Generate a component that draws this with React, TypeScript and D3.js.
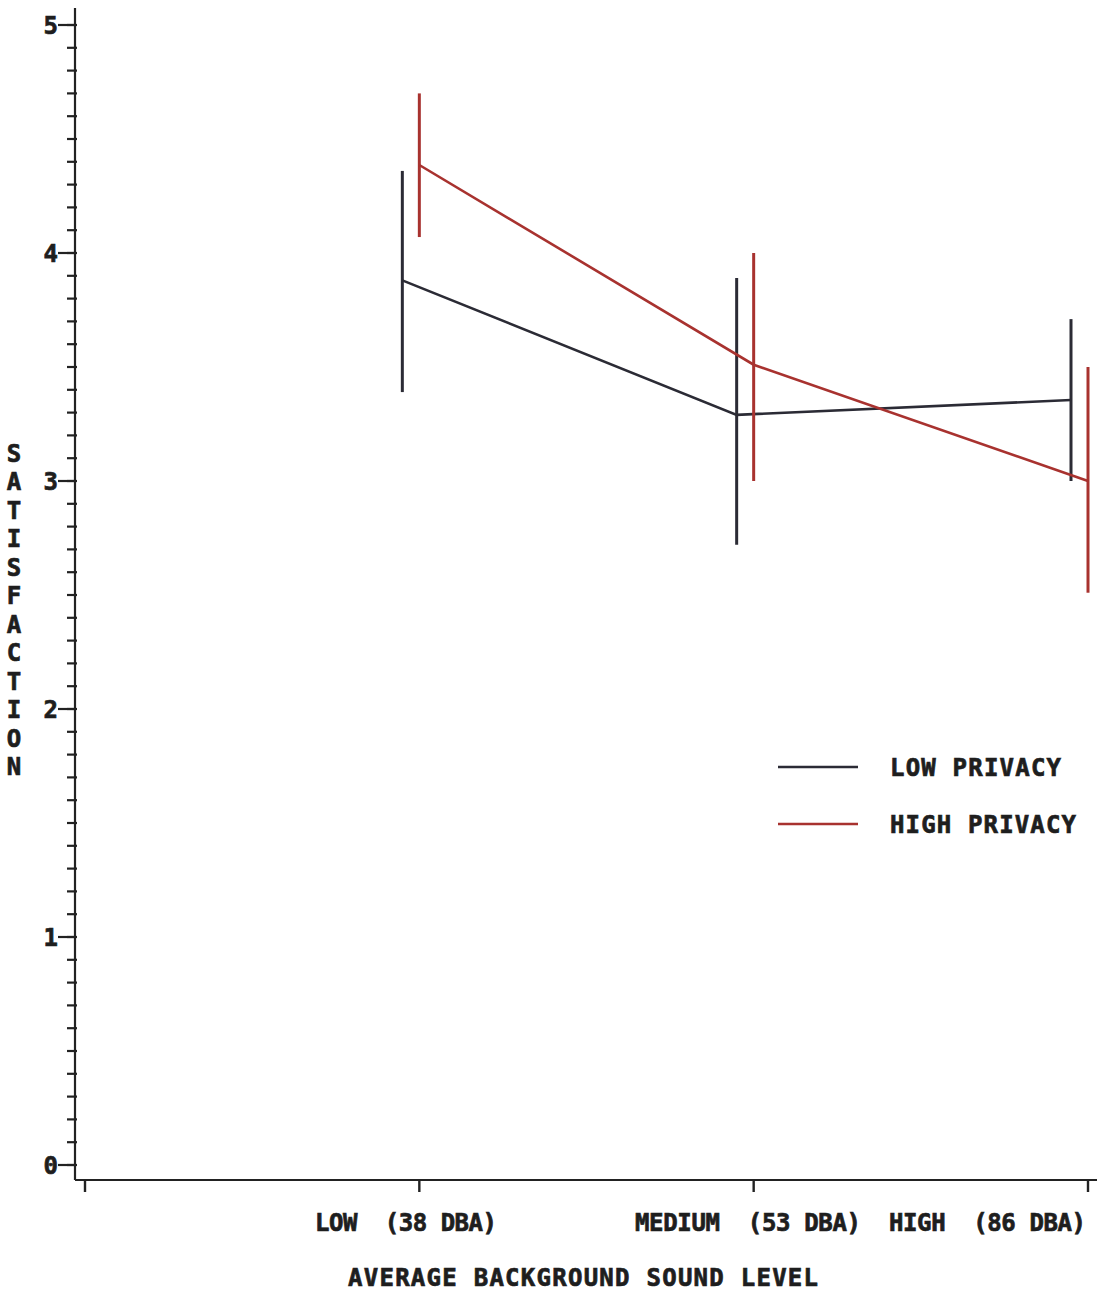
import React from "react";
import * as d3 from "d3";

const categories = ["", "LOW  (38 DBA)", "MEDIUM  (53 DBA)", "HIGH  (86 DBA)"];
const lowPrivacyMean = [3.88, 3.29, 3.355];
const lowPrivacyUpper = [4.36, 3.89, 3.71];
const lowPrivacyLower = [3.39, 2.72, 3.0];
const highPrivacyMean = [4.386, 3.51, 3.0];
const highPrivacyUpper = [4.7, 4.0, 3.5];
const highPrivacyLower = [4.07, 3.0, 2.51];
const yTicks = [0, 1, 2, 3, 4, 5];
const seriesNames = ["LOW PRIVACY", "HIGH PRIVACY"];
const yTitle = "SATISFACTION";
const xTitle = "AVERAGE BACKGROUND SOUND LEVEL";

const W = 1097;
const H = 1291;
const FONT = "'DejaVu Sans Mono', 'Liberation Mono', monospace";
const BLACK = "#2b2b35";
const RED = "#a8322f";
const TXT = "#1e1e1e";
const FS = 24;

export default function App() {
  const x = d3.scaleLinear().domain([0, 3]).range([85, 1088]);
  const y = d3.scaleLinear().domain([0, 5]).range([1165, 25]);
  const axisX = 75;
  const axisY = 1180;
  const minor = d3.range(0, 50.001, 1).map((v) => v / 10);

  const series = [
    { name: seriesNames[0], mean: lowPrivacyMean, up: lowPrivacyUpper, lo: lowPrivacyLower, color: BLACK, dx: -17 },
    { name: seriesNames[1], mean: highPrivacyMean, up: highPrivacyUpper, lo: highPrivacyLower, color: RED, dx: 0 },
  ];

  const line = d3
    .line<[number, number]>()
    .x((d) => d[0])
    .y((d) => d[1]);

  const labelSpecs = [
    null,
    { x0: 315, len: 182 },
    { x0: 635, len: 226 },
    { x0: 889, len: 197 },
  ];

  const textProps = {
    fontFamily: FONT,
    fontWeight: "bold" as const,
    fontSize: FS,
    fill: TXT,
    stroke: TXT,
    strokeWidth: 0.7,
  };

  return (
    <svg width={W} height={H} style={{ position: "absolute", left: 0, top: 0, background: "#fff" }}>
      {/* Y axis */}
      <line x1={axisX} x2={axisX} y1={8} y2={axisY} stroke="#222" strokeWidth={2.2} />
      {minor.map((v, i) => (
        <line key={"m" + i} x1={axisX - 8} x2={axisX + 2} y1={y(v)} y2={y(v)} stroke="#222" strokeWidth={2.2} />
      ))}
      {yTicks.map((t) => (
        <g key={"t" + t}>
          <line x1={axisX - 17} x2={axisX} y1={y(t)} y2={y(t)} stroke="#222" strokeWidth={2.2} />
          <text x={axisX - 17} y={y(t) + 9} textAnchor="end" {...textProps}>
            {t}
          </text>
        </g>
      ))}
      {/* Y title stacked */}
      {yTitle.split("").map((ch, i) => (
        <text key={"yl" + i} x={14} y={452.5 + i * 28.5 + 9} textAnchor="middle" {...textProps}>
          {ch}
        </text>
      ))}
      {/* X axis */}
      <line x1={axisX} x2={W} y1={axisY} y2={axisY} stroke="#222" strokeWidth={2} />
      {categories.map((c, i) => (
        <g key={"x" + i}>
          <line x1={x(i)} x2={x(i)} y1={axisY} y2={axisY + 12} stroke="#222" strokeWidth={2.4} />
          {labelSpecs[i] && (
            <text
              x={labelSpecs[i]!.x0}
              y={1231}
              textLength={labelSpecs[i]!.len}
              lengthAdjust="spacing"
              style={{ whiteSpace: "pre" }}
              {...textProps}
            >
              {c}
            </text>
          )}
        </g>
      ))}
      <text x={348} y={1286} textLength={470} lengthAdjust="spacing" {...textProps}>
        {xTitle}
      </text>
      {/* Series */}
      {series.map((s, si) => (
        <g key={"s" + si}>
          {s.mean.map((m, i) => (
            <line
              key={"e" + i}
              x1={x(i + 1) + s.dx}
              x2={x(i + 1) + s.dx}
              y1={y(s.up[i])}
              y2={y(s.lo[i])}
              stroke={s.color}
              strokeWidth={3}
            />
          ))}
          <path
            d={line(s.mean.map((m, i) => [x(i + 1) + s.dx, y(m)] as [number, number])) || ""}
            fill="none"
            stroke={s.color}
            strokeWidth={2.6}
          />
        </g>
      ))}
      {/* Legend */}
      {series.map((s, si) => (
        <g key={"lg" + si}>
          <line x1={778} x2={858} y1={767 + si * 57} y2={767 + si * 57} stroke={s.color} strokeWidth={2.6} />
          <text
            x={890}
            y={767 + si * 57 + 9}
            textLength={si === 0 ? 171 : 186}
            lengthAdjust="spacing"
            {...textProps}
          >
            {s.name}
          </text>
        </g>
      ))}
    </svg>
  );
}
